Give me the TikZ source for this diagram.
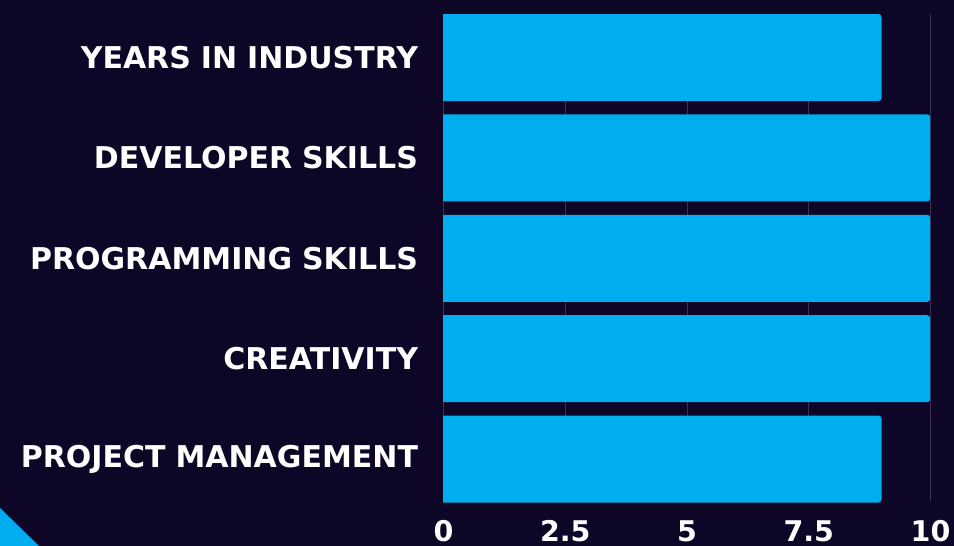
\documentclass[tikz,border=0pt]{standalone}
\usepackage{fontspec}
\setmainfont{DejaVu Sans}
\usetikzlibrary{positioning}
\definecolor{nightbg}{HTML}{0D0626}
\definecolor{skillcyan}{HTML}{00AEEF}
\definecolor{gridgrey}{HTML}{3A3452}
\tikzset{%
  % Specifications for style of nodes:
      skill/.style = {rectangle, text width=416pt, minimum height=87pt,
                      inner sep=0pt, align=right, text=white,
                      font=\bfseries\fontsize{30}{36}\selectfont},
        bar/.style = {rectangle, minimum height=87pt, inner sep=0pt, outer sep=0pt},
    barfill/.style = {fill=skillcyan, draw=none},
  ticklabel/.style = {text=white, inner sep=0pt, anchor=base,
                      font=\bfseries\fontsize{28.5}{34}\selectfont},
   gridline/.style = {draw=gridgrey, line width=1pt}
}

\begin{document}
\begin{tikzpicture}[x=1pt, y=-1pt]
  \fill[nightbg] (0,0) rectangle (954,546);
  \useasboundingbox (0,0) rectangle (954,546);
  \fill[skillcyan] (0,508) -- (39,546) -- (0,546) -- cycle;

  % grid, behind the bars
  \foreach \v [count=\i] in {0,2.5,5,7.5,10} {
    \coordinate (gtop\i) at (443.5+48.7*\v,14);
    \coordinate (gbot\i) at (443.5+48.7*\v,501);
    \draw[gridline] (gtop\i) -- (gbot\i);
    \node (tick\i) [ticklabel] at (443.5+48.7*\v,541) {\v};
  }

  \node (yrs)  [skill] at (210,57.5)      {YEARS IN INDUSTRY};
  \node (dev)  [skill, below=13pt of yrs] {DEVELOPER SKILLS};
  \node (prog) [skill, below=13pt of dev] {PROGRAMMING SKILLS};
  \node (crea) [skill, below=13pt of prog] {CREATIVITY};
  \node (pm)   [skill, below=13pt of crea] {PROJECT MANAGEMENT};

  \node (yrsbar)  [bar, minimum width=438.3pt, right=25pt of yrs]  {};
  \node (devbar)  [bar, minimum width=487pt,   right=25pt of dev]  {};
  \node (progbar) [bar, minimum width=487pt,   right=25pt of prog] {};
  \node (creabar) [bar, minimum width=487pt,   right=25pt of crea] {};
  \node (pmbar)   [bar, minimum width=438.3pt, right=25pt of pm]   {};

  \foreach \b in {yrsbar,devbar,progbar,creabar,pmbar}
    \fill[barfill] (\b.south west) -- (\b.north west) [rounded corners=3pt]
      -- (\b.north east) -- (\b.south east) [sharp corners] -- cycle;
\end{tikzpicture}
\end{document}
